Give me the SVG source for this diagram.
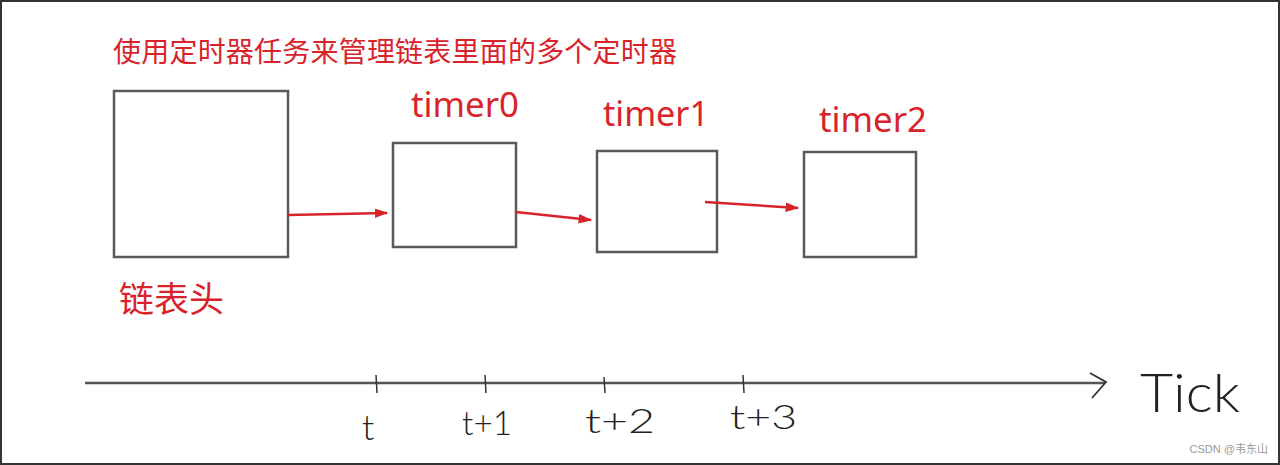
<svg xmlns="http://www.w3.org/2000/svg" width="1280" height="465" viewBox="0 0 1280 465">
<defs>
<style>
.box{fill:#fff;stroke:#5a5a5a;stroke-width:2.5}
.red{fill:#d9232b;font-family:"Noto Sans","Open Sans","Noto Sans CJK SC",sans-serif}
.cjk{fill:#d9232b;font-family:"Noto Sans CJK SC",sans-serif}
.hand{fill:#222;font-family:Lato,"Liberation Sans",sans-serif;font-weight:300}
.link{stroke:#d9232b;stroke-width:2.5;fill:none}
.axis{stroke:#555;stroke-width:2.5;fill:none}
.tick{stroke:#333;stroke-width:1.5}
</style>
<marker id="ah" viewBox="0 0 10 10" refX="9" refY="5" markerWidth="5.5" markerHeight="5.5" orient="auto" markerUnits="strokeWidth">
<path d="M0,1.5 L10,5 L0,8.5 z" fill="#d9232b"/>
</marker>
</defs>
<rect x="0" y="0" width="1280" height="465" fill="#fff"/>
<rect x="1" y="1" width="1278" height="463" fill="none" stroke="#333" stroke-width="2"/>
<text class="cjk" x="113" y="62" font-size="28" textLength="564">使用定时器任务来管理链表里面的多个定时器</text>
<g id="head">
<rect class="box" x="114" y="91" width="174" height="166"/>
<text class="cjk" x="119" y="312" font-size="35">链表头</text>
</g>
<g id="timer0">
<rect class="box" x="393" y="143" width="123" height="104"/>
<text class="red" x="411" y="117" font-size="34" textLength="108" lengthAdjust="spacingAndGlyphs">timer0</text>
</g>
<g id="timer1">
<rect class="box" x="597" y="151" width="120" height="101"/>
<text class="red" x="603" y="126" font-size="34" textLength="106" lengthAdjust="spacingAndGlyphs">timer1</text>
</g>
<g id="timer2">
<rect class="box" x="804" y="152" width="112" height="105"/>
<text class="red" x="819" y="132" font-size="34" textLength="108" lengthAdjust="spacingAndGlyphs">timer2</text>
</g>
<g id="connectors">
<line class="link" x1="288" y1="215" x2="387" y2="213" marker-end="url(#ah)"/>
<line class="link" x1="516" y1="212" x2="591" y2="220" marker-end="url(#ah)"/>
<line class="link" x1="705" y1="202" x2="798" y2="208" marker-end="url(#ah)"/>
</g>
<g id="axis">
<line class="axis" x1="85" y1="383" x2="1105" y2="383"/>
<polyline points="1090,373 1106,382 1092,398" fill="none" stroke="#333" stroke-width="1.8"/>
<line class="tick" x1="376" y1="375" x2="377" y2="393"/>
<line class="tick" x1="485" y1="375" x2="486" y2="393"/>
<line class="tick" x1="604" y1="377" x2="605" y2="393"/>
<line class="tick" x1="743" y1="375" x2="744" y2="393"/>
<text class="hand" x="362" y="440" font-size="36">t</text>
<text class="hand" x="462" y="435" font-size="34" textLength="50" lengthAdjust="spacingAndGlyphs">t+1</text>
<text class="hand" x="585" y="433" font-size="34" textLength="70" lengthAdjust="spacingAndGlyphs">t+2</text>
<text class="hand" x="730" y="429" font-size="34" textLength="67" lengthAdjust="spacingAndGlyphs">t+3</text>
<text class="hand" x="1140" y="412" font-size="54" textLength="100" lengthAdjust="spacingAndGlyphs">Tick</text>
</g>
<text x="1268" y="453" font-size="11" fill="#999" text-anchor="end" font-family="'Liberation Sans','Noto Sans CJK SC',sans-serif">CSDN @韦东山</text>
</svg>
